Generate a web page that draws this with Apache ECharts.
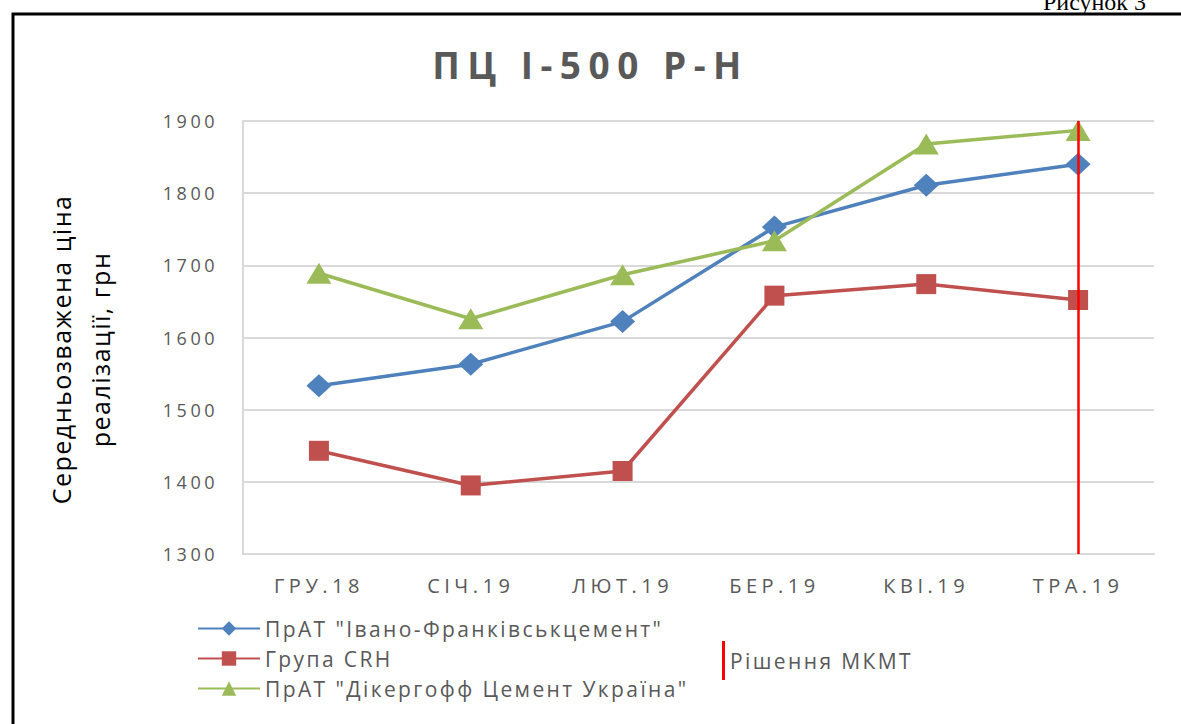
<!DOCTYPE html>
<html>
<head>
<meta charset="utf-8">
<script src="https://cdn.jsdelivr.net/npm/echarts@6/dist/echarts.min.js"></script>
<style>
  html, body { margin: 0; padding: 0; background: #fff; }
  #chart { width: 1181px; height: 724px; }
</style>
</head>
<body>
<div id="chart"></div>
<script>
// місяці
const months = ['ГРУ.18', 'СІЧ.19', 'ЛЮТ.19', 'БЕР.19', 'КВІ.19', 'ТРА.19'];
// середньозважена ціна, грн
const ivanoFrankivsk = [1533, 1563, 1622, 1753, 1811, 1840];
const crh = [1443, 1395, 1415, 1658, 1674, 1652];
const dyckerhoff = [1689, 1626, 1687, 1734, 1868, 1887];
const yTicks = { min: 1300, max: 1900, step: 100 };

const chart = echarts.init(document.getElementById('chart'), null, { renderer: 'svg' });

const grey = '#595959';
const option = {
  backgroundColor: '#fff',
  animation: false,
  title: {
    text: 'ПЦ І-500 Р-Н',
    left: 'center',
    top: 41,
    textStyle: { fontFamily: 'Open Sans', fontWeight: 'bold', fontSize: 37, color: grey }
  },
  graphic: [
    // рамка рисунка
    { type: 'polyline', shape: { points: [[13, 724], [13, 14], [1181, 14]] },
      style: { stroke: '#000', lineWidth: 3, fill: null } },
    { type: 'text', left: 1043, top: -10,
      style: { text: 'Рисунок 3', fontFamily: 'Liberation Serif', fontSize: 24, fill: '#000' } }
  ],
  grid: { left: 243, right: 27, top: 121, bottom: 170 },
  legend: [
    {
      orient: 'vertical',
      left: 192,
      top: 613,
      itemWidth: 62,
      itemHeight: 18,
      itemGap: 9,
      textStyle: { fontFamily: 'Open Sans', fontSize: 21, color: grey },
      data: ['ПрАТ "Івано-Франківськцемент"', 'Група CRH', 'ПрАТ "Дікергофф Цемент Україна"']
    },
    {
      left: 717,
      top: 636,
      itemWidth: 3,
      itemHeight: 39,
      icon: 'rect',
      textStyle: { fontFamily: 'Open Sans', fontSize: 21, color: grey },
      data: ['Рішення МКМТ']
    }
  ],
  xAxis: {
    type: 'category',
    data: months,
    axisLine: { show: true, lineStyle: { color: '#D9D9D9', width: 2 } },
    axisTick: { show: false },
    axisLabel: { margin: 21, fontFamily: 'Open Sans', fontSize: 20, color: grey }
  },
  yAxis: {
    type: 'value',
    min: yTicks.min,
    max: yTicks.max,
    interval: yTicks.step,
    name: 'Середньозважена ціна\nреалізації, грн',
    nameLocation: 'middle',
    nameRotate: 90,
    nameGap: 124,
    nameTextStyle: { fontFamily: 'Open Sans', fontSize: 25, color: '#000', lineHeight: 39, padding: [0, 24, 0, 0] },
    axisLine: { show: true, lineStyle: { color: '#D9D9D9', width: 2 } },
    axisTick: { show: false },
    splitLine: { lineStyle: { color: '#D9D9D9', width: 2 } },
    axisLabel: { margin: 25, fontFamily: 'Open Sans', fontSize: 18, color: grey, formatter: v => String(v) }
  },
  series: [
    {
      name: 'ПрАТ "Івано-Франківськцемент"',
      type: 'line',
      data: ivanoFrankivsk,
      symbol: 'diamond',
      symbolSize: [25, 23],
      color: '#4F81BD',
      lineStyle: { width: 3.5 }
    },
    {
      name: 'Група CRH',
      type: 'line',
      data: crh,
      symbol: 'rect',
      symbolSize: 20,
      color: '#C0504D',
      lineStyle: { width: 3.5 }
    },
    {
      name: 'ПрАТ "Дікергофф Цемент Україна"',
      type: 'line',
      data: dyckerhoff,
      symbol: 'triangle',
      symbolSize: [25, 21],
      color: '#9BBB59',
      lineStyle: { width: 3.5 }
    },
    {
      name: 'Рішення МКМТ',
      type: 'line',
      data: [],
      color: '#FF0000',
      markLine: {
        silent: true,
        symbol: ['none', 'none'],
        label: { show: false },
        lineStyle: { color: '#FF0000', width: 2.5, type: 'solid' },
        data: [[{ coord: ['ТРА.19', yTicks.max] }, { coord: ['ТРА.19', yTicks.min] }]]
      }
    }
  ]
};

chart.setOption(option);

// розрідження літер, як у вихідному рисунку (за розміром шрифту)
const spacing = { 37: 7.5, 20: 4.5, 18: 3.5, 21: 2.4, 25: 1.5 };
function applySpacing() {
  document.querySelectorAll('#chart svg text').forEach(t => {
    const fs = Math.round(parseFloat(getComputedStyle(t).fontSize));
    if (spacing[fs]) t.style.letterSpacing = spacing[fs] + 'px';
  });
}
applySpacing();
chart.on('finished', applySpacing);
</script>
</body>
</html>
